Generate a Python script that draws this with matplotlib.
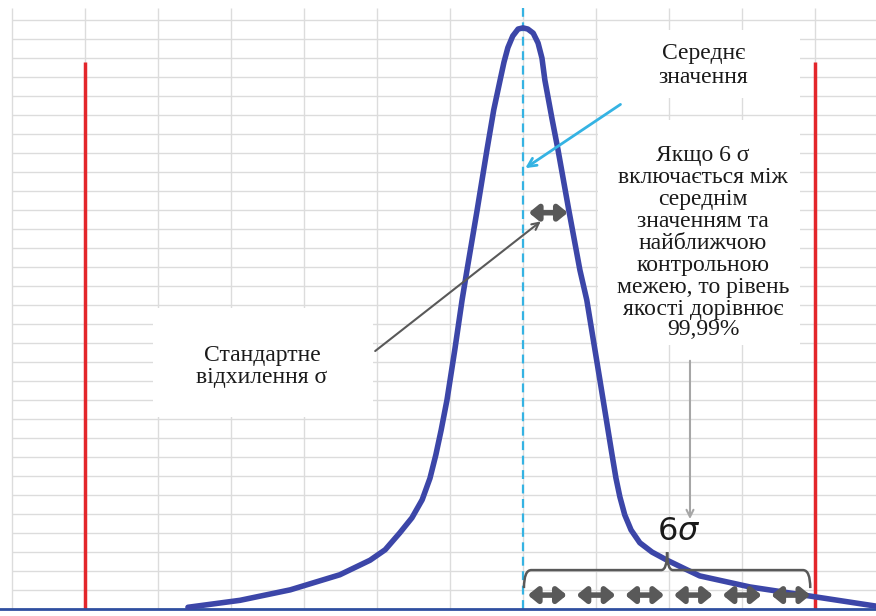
import matplotlib
matplotlib.use("Agg")
import matplotlib.pyplot as plt
from matplotlib.patches import Rectangle, PathPatch
from matplotlib.path import Path

# bell curve (x in sigma units from the mean, y relative to peak)
curve_x = [-6.88, -5.81, -4.78, -3.76, -3.14, -2.83, -2.53, -2.28, -2.07, -1.91,
           -1.79, -1.68, -1.56, -1.40, -1.25, -1.15, -0.94, -0.74, -0.60, -0.47,
           -0.39, -0.31, -0.21, -0.10, 0.0, 0.10, 0.21, 0.31, 0.39, 0.45,
           0.60, 0.72, 0.94, 1.17, 1.31, 1.58, 1.83, 1.91, 1.99, 2.09,
           2.22, 2.40, 2.65, 2.96, 3.33, 3.63, 4.66, 6.00, 7.25]
curve_y = [0.003, 0.015, 0.033, 0.059, 0.084, 0.102, 0.131, 0.157, 0.188, 0.225,
           0.265, 0.308, 0.360, 0.446, 0.532, 0.583, 0.687, 0.790, 0.859, 0.910,
           0.941, 0.966, 0.986, 0.998, 1.0, 0.998, 0.991, 0.974, 0.948, 0.910,
           0.842, 0.790, 0.687, 0.583, 0.532, 0.394, 0.265, 0.225, 0.193, 0.162,
           0.136, 0.114, 0.098, 0.084, 0.069, 0.057, 0.038, 0.021, 0.005]

mean_x = 0.0
limits_x = [-9.0, 6.0]
limit_top = 0.941
n_sigma = 6

txt_mean = "Середнє\nзначення"
txt_rule = ("Якщо 6 σ\nвключається між\nсереднім\nзначенням та\n"
            "найближчою\nконтрольною\nмежею, то рівень\nякості дорівнює")
txt_pct = "99,99%"
txt_std = "Стандартне\nвідхилення σ"

grid_col = "#dcdcdc"
gray = "#595959"
blue_curve = "#3c46a8"
cyan = "#35b3e3"
red = "#e3262b"
ink = "#1a1a1a"
serif = ["Liberation Serif", "DejaVu Serif"]

fig = plt.figure(figsize=(8.76, 6.16), dpi=100)
ax = fig.add_axes([0, 0, 1, 1])
ax.set_xlim(-10.74, 7.25)
ax.set_ylim(-0.012, 1.048)
ax.axis("off")

# spreadsheet-like grid
for k in range(12):
    ax.vlines(-10.5 + 1.5 * k, 0, 1.034, color=grid_col, lw=1, zorder=1)
for k in range(1, 32):
    ax.hlines(k * 0.0327, -10.5, 7.25, color=grid_col, lw=1, zorder=1)

# white label boxes hiding the grid
for (x0, x1, y0, y1) in [(1.54, 5.69, 0.880, 0.997),
                         (1.54, 5.69, 0.454, 0.842),
                         (-7.60, -3.08, 0.330, 0.518)]:
    ax.add_patch(Rectangle((x0, y0), x1 - x0, y1 - y0, facecolor="white",
                           edgecolor="none", zorder=2))

# control limits
for lx in limits_x:
    ax.vlines(lx, 0, limit_top, color=red, lw=2.5, zorder=3)

# mean line
ax.vlines(mean_x, 0, 1.034, color=cyan, lw=1.6, linestyles=(0, (4, 2.5)), zorder=3)

# baseline and curve
ax.axhline(0, color="#2f4fa0", lw=2, zorder=4)
ax.plot(curve_x, curve_y, color=blue_curve, lw=4, solid_capstyle="round",
        solid_joinstyle="round", zorder=5)

# texts
ax.text(3.70, 0.935, txt_mean, ha="center", va="center", fontsize=17,
        family=serif, linespacing=1.15, color=ink, zorder=6)
ax.text(3.70, 0.648, txt_rule, ha="center", va="center", fontsize=17,
        family=serif, linespacing=1.07, color=ink, zorder=6)
ax.text(3.70, 0.481, txt_pct, ha="center", va="center", fontsize=17,
        family=serif, color=ink, zorder=6)
ax.text(-5.36, 0.417, txt_std, ha="center", va="center", fontsize=17,
        family=serif, linespacing=1.05, color=ink, zorder=6)
ax.text(3.20, 0.133, r"$6\sigma$", ha="center", va="center", fontsize=23,
        color=ink, zorder=6)

# pointer arrows
ax.annotate("", xy=(mean_x, 0.756), xytext=(2.05, 0.871),
            arrowprops=dict(arrowstyle="->,head_length=0.6,head_width=0.3",
                            color=cyan, lw=2), zorder=6)
ax.annotate("", xy=(0.41, 0.670), xytext=(-3.08, 0.441),
            arrowprops=dict(arrowstyle="->,head_length=0.5,head_width=0.25",
                            color=gray, lw=1.5), zorder=6)
ax.annotate("", xy=(3.43, 0.150), xytext=(3.43, 0.432),
            arrowprops=dict(arrowstyle="->,head_length=0.5,head_width=0.25",
                            color="#a6a6a6", lw=1.5), zorder=6)

# one-sigma double arrows
dbl = dict(arrowstyle="<|-|>,head_length=0.55,head_width=0.45", color=gray,
           lw=4, shrinkA=0, shrinkB=0)
ax.annotate("", xy=(mean_x + 0.92, 0.682), xytext=(mean_x + 0.12, 0.682),
            arrowprops=dbl, zorder=6)
for k in range(n_sigma):
    ax.annotate("", xy=(mean_x + k + 0.9, 0.024), xytext=(mean_x + k + 0.1, 0.024),
                arrowprops=dbl, zorder=6)

# curly brace over 6 sigma
bx0, bx1, by = mean_x + 0.02, mean_x + 5.9, 0.067
bm = (bx0 + bx1) / 2
verts = [(bx0, by - 0.031), (bx0, by), (bx0 + 0.15, by),
         (bm - 0.12, by), (bm, by), (bm, by + 0.031),
         (bm, by), (bm + 0.12, by),
         (bx1 - 0.15, by), (bx1, by), (bx1, by - 0.031)]
codes = [Path.MOVETO, Path.CURVE3, Path.CURVE3,
         Path.LINETO, Path.CURVE3, Path.CURVE3,
         Path.CURVE3, Path.CURVE3,
         Path.LINETO, Path.CURVE3, Path.CURVE3]
ax.add_patch(PathPatch(Path(verts, codes), facecolor="none", edgecolor=gray,
                       lw=1.8, zorder=6))

fig.savefig("out.png", dpi=100)
